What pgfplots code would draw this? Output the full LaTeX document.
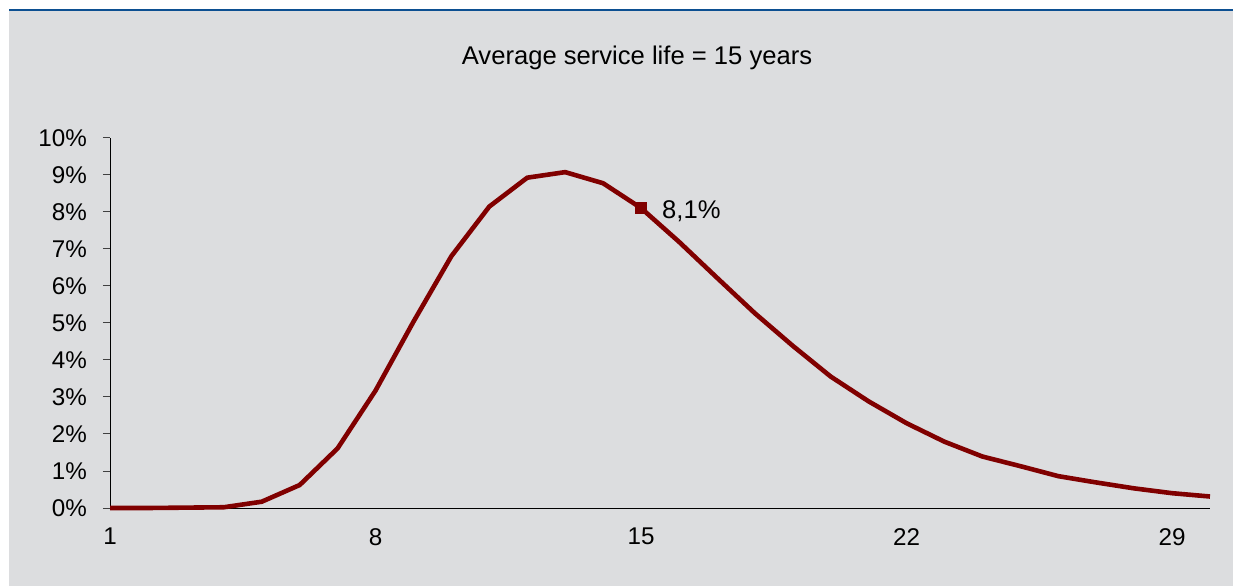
\documentclass[border=0pt]{standalone}
\usepackage{pgfplots}
\pgfplotsset{compat=1.18}
\usepackage{fontspec}
\setmainfont{Liberation Sans}

\definecolor{panelgray}{RGB}{220,221,223}
\definecolor{topblue}{RGB}{12,79,145}
\definecolor{curvered}{RGB}{128,0,0}

% share of retirements per year of service life (%)
\pgfplotstableread{
year share
1  0.00
2  0.00
3  0.01
4  0.02
5  0.17
6  0.62
7  1.61
8  3.17
9  5.03
10 6.80
11 8.14
12 8.92
13 9.07
14 8.77
15 8.10
16 7.19
17 6.22
18 5.26
19 4.38
20 3.55
21 2.88
22 2.29
23 1.79
24 1.39
25 1.13
26 0.86
27 0.69
28 0.53
29 0.40
30 0.31
}\survival

\newcommand{\tickfnt}{\fontsize{24.2}{28}\selectfont}
\newcommand{\labelfnt}{\fontsize{25.6}{30}\selectfont}

\begin{document}
\begin{tikzpicture}[x=1pt,y=1pt]
  % panel background with the blue rule on top
  \fill[white] (0,0) rectangle (1233,586);
  \fill[panelgray] (9,0) rectangle (1233,577);
  \fill[topblue] (9,574.8) rectangle (1233,577.4);
  \node[anchor=base, font=\labelfnt, inner sep=0pt] at (637,521.7) {Average service life = 15 years};

  \begin{axis}[
    at={(110pt,78pt)}, anchor=south west,
    scale only axis, width=1100pt, height=370.3pt,
    xmin=1, xmax=30, ymin=0, ymax=10,
    axis x line=bottom, axis y line=left,
    axis line style={-, black, line width=0.9pt},
    xtick={1,8,15,22,29}, xticklabels={1,8,15,22,29},
    x tick style={draw=none},
    ytick={0,1,...,10},
    yticklabels={0\%,1\%,2\%,3\%,4\%,5\%,6\%,7\%,8\%,9\%,10\%},
    y tick style={black!75, line width=0.9pt},
    tick align=outside, major tick length=7pt,
    ticklabel style={font=\tickfnt, text=black},
    yticklabel style={inner sep=0pt, xshift=-16pt},
    xticklabel style={inner sep=0pt, yshift=-13pt},
    clip=false,
  ]
    \addplot[curvered, line width=4.6pt, line join=round] table[x=year, y=share] {\survival};
    \addplot[only marks, mark=square*, mark size=5.5pt, curvered,
      point meta=y,
      nodes near coords={\pgfmathprintnumber[fixed,precision=1,use comma,assume math mode=true]{\pgfplotspointmeta}\%},
      nodes near coords style={font=\labelfnt, text=black, anchor=base west, inner sep=0pt, xshift=21pt, yshift=-10pt}]
      coordinates {(15,8.1)};
  \end{axis}
  \pgfresetboundingbox
  \useasboundingbox (0,0) rectangle (1233,586);
\end{tikzpicture}
\end{document}
